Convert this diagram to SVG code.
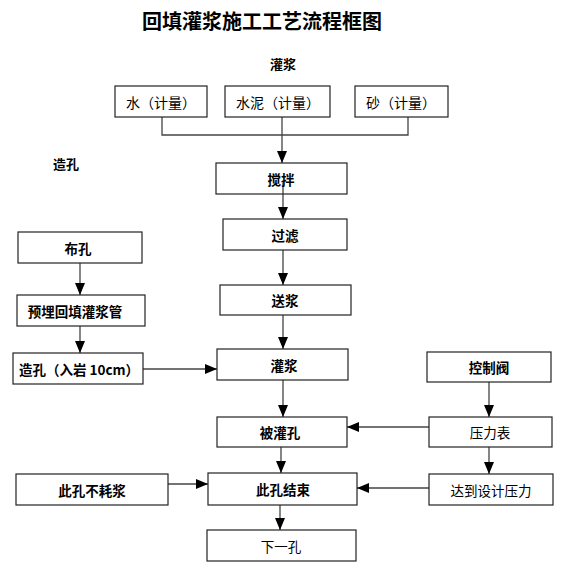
<svg xmlns="http://www.w3.org/2000/svg" width="572" height="582" viewBox="0 0 572 582">
<defs>
<marker id="arr" markerUnits="userSpaceOnUse" markerWidth="12" markerHeight="10" refX="12" refY="5" orient="auto">
<path d="M0,0 L12,5 L0,10 z" fill="#000"/>
</marker>
<style>
rect.box{fill:#fff;stroke:#222;stroke-width:1.2}
text{font-family:"Noto Sans CJK SC","Liberation Sans",sans-serif;font-size:13.5px;fill:#000;text-anchor:middle;dominant-baseline:central}
text.b{font-weight:700}
.c line,.c polyline{stroke:#444;stroke-width:1.3;fill:none}
.c .a{marker-end:url(#arr)}
</style>
</defs>
<rect width="572" height="582" fill="#fff"/>
<text x="262" y="20" class="b" style="font-size:20px">回填灌浆施工工艺流程框图</text>
<text x="283" y="63" class="b" style="font-size:13px">灌浆</text>
<text x="66" y="163" class="b" style="font-size:13px">造孔</text>

<g class="c">
<polyline points="162,117 162,135 408,135 408,117"/>
<line class="a" x1="282" y1="117" x2="282" y2="163"/>
<line class="a" x1="283" y1="183" x2="283" y2="219"/>
<line class="a" x1="283" y1="250" x2="283" y2="285"/>
<line class="a" x1="283" y1="315" x2="283" y2="349"/>
<line class="a" x1="283" y1="380" x2="283" y2="417"/>
<line class="a" x1="281" y1="447" x2="281" y2="473"/>
<line class="a" x1="280" y1="505" x2="280" y2="530"/>
<line class="a" x1="80" y1="263" x2="80" y2="295"/>
<line class="a" x1="80" y1="326" x2="80" y2="353"/>
<line class="a" x1="143" y1="369" x2="217" y2="369"/>
<line class="a" x1="489" y1="382" x2="489" y2="417"/>
<line class="a" x1="489" y1="447" x2="489" y2="474"/>
<line class="a" x1="429" y1="427" x2="347" y2="427"/>
<line class="a" x1="429" y1="488" x2="357" y2="488"/>
<line class="a" x1="168" y1="484" x2="208" y2="484"/>
</g>

<g id="water"><rect class="box" x="115" y="86" width="92" height="31"/><text x="161" y="102" style="font-size:14px">水（计量）</text></g>
<g id="cement"><rect class="box" x="225" y="86" width="105" height="31"/><text x="278" y="102" style="font-size:14px">水泥（计量）</text></g>
<g id="sand"><rect class="box" x="355" y="86" width="93" height="31"/><text x="401" y="102" style="font-size:14px">砂（计量）</text></g>
<g id="mix"><rect class="box" x="216" y="163" width="131" height="31" style="fill:none"/><text x="281" y="179" class="b">搅拌</text></g>
<g id="filter"><rect class="box" x="223" y="219" width="124" height="31"/><text x="285" y="235" class="b">过滤</text></g>
<g id="send"><rect class="box" x="220" y="285" width="131" height="30"/><text x="285" y="300" class="b">送浆</text></g>
<g id="grout"><rect class="box" x="217" y="349" width="131" height="31"/><text x="284" y="365" class="b">灌浆</text></g>
<g id="grouted"><rect class="box" x="217" y="417" width="130" height="30"/><text x="280" y="432" class="b">被灌孔</text></g>
<g id="end"><rect class="box" x="208" y="473" width="149" height="32"/><text x="283" y="489" class="b">此孔结束</text></g>
<g id="next"><rect class="box" x="207" y="530" width="149" height="31"/><text x="281" y="546">下一孔</text></g>
<g id="layout"><rect class="box" x="18" y="232" width="124" height="31"/><text x="78" y="248" class="b">布孔</text></g>
<g id="pipe"><rect class="box" x="17" y="295" width="128" height="31"/><text x="75" y="311" class="b">预埋回填灌浆管</text></g>
<g id="drill"><rect class="box" x="13" y="353" width="130" height="31"/><text x="79" y="369" class="b">造孔（入岩 10cm）</text></g>
<g id="valve"><rect class="box" x="427" y="352" width="124" height="30"/><text x="489" y="367" class="b">控制阀</text></g>
<g id="gauge"><rect class="box" x="429" y="417" width="123" height="30"/><text x="490" y="432">压力表</text></g>
<g id="pressure"><rect class="box" x="429" y="474" width="124" height="31"/><text x="491" y="490">达到设计压力</text></g>
<g id="noslurry"><rect class="box" x="16" y="474" width="152" height="31"/><text x="92" y="490" class="b">此孔不耗浆</text></g>
</svg>
